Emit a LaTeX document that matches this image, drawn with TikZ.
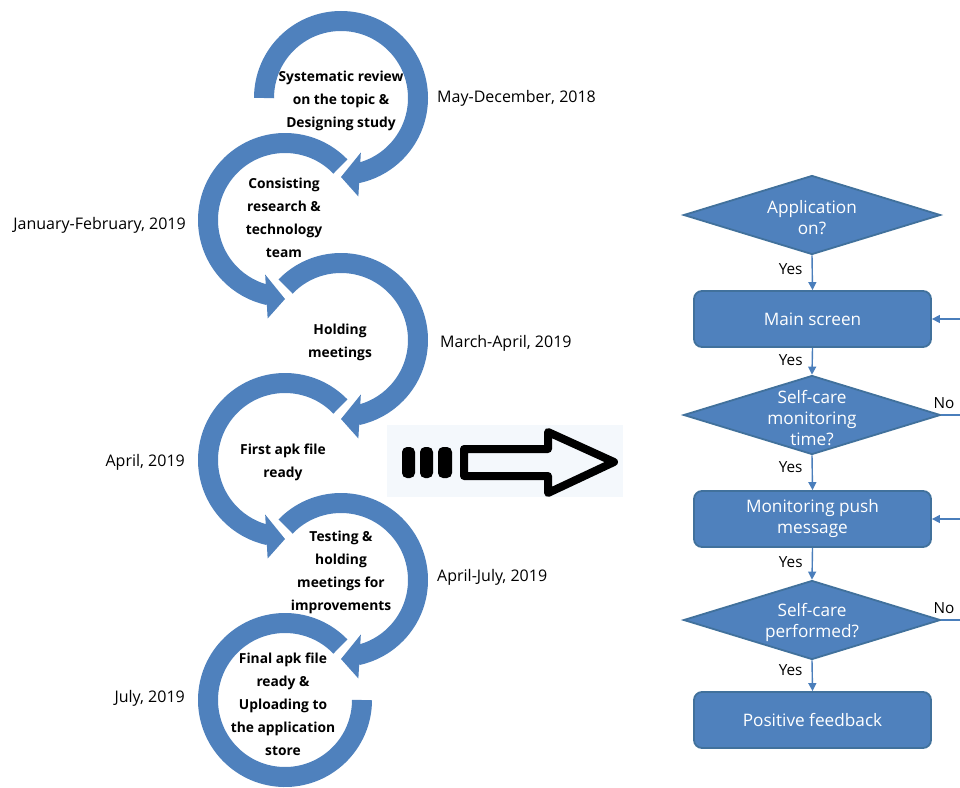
\documentclass[tikz,border=0pt]{standalone}
\usepackage{fontspec}
\setmainfont{Open Sans}
\usetikzlibrary{shapes.geometric,arrows.meta}
\definecolor{arcblue}{HTML}{4F81BD}
\definecolor{boxedge}{HTML}{41719C}
\definecolor{linkblue}{HTML}{4A7EBB}
\definecolor{bgpale}{HTML}{F4F8FC}
\newcommand\stepcw[3]{%
  \draw[arcblue, line width=20pt] (#1,#2) ++(#3:77) arc[start angle=#3, end angle=-78, radius=77];
  \fill[arcblue, shift={(#1,#2)}] (-70:58) -- (-80:100) -- (-90:79) -- cycle;}
\newcommand\stepccw[3]{%
  \draw[arcblue, line width=20pt] (#1,#2) ++(#3:77) arc[start angle=#3, end angle=258, radius=77];
  \fill[arcblue, shift={(#1,#2)}] (250:58) -- (260:100) -- (270:79) -- cycle;}
\begin{document}
\begin{tikzpicture}[x=1pt,y=1pt,
  steptext/.style={font=\fontsize{13.8}{23}\selectfont\bfseries, align=center, inner sep=0pt},
  datetext/.style={font=\fontsize{16}{18}\selectfont, inner sep=0pt},
  flowbox/.style={draw=boxedge, line width=1.8pt, fill=arcblue, rounded corners=8pt, minimum width=237pt, minimum height=56pt, text=white, font=\fontsize{17.2}{21}\selectfont, align=center},
  flowdia/.style={diamond, draw=boxedge, line width=1.8pt, fill=arcblue, aspect=3.2, minimum width=257pt, minimum height=79pt, inner sep=0pt},
  diatext/.style={text=white, font=\fontsize{17.2}{21}\selectfont, align=center, inner sep=0pt},
  yesno/.style={font=\fontsize{15.3}{17}\selectfont, inner sep=0pt},
  link/.style={draw=linkblue, line width=1.4pt, -{Triangle[length=8pt,width=8pt]}},
  plainlink/.style={draw=linkblue, line width=1.4pt},
]
\useasboundingbox (0,0) rectangle (960,-787);

% circular step arrows
\stepcw{341}{-98}{180}
\stepccw{285}{-220}{44}
\stepcw{341}{-340}{136}
\stepccw{285}{-460}{44}
\stepcw{341}{-580}{136}
\draw[arcblue, line width=20pt] (285,-700) ++(44:77) arc[start angle=44, end angle=360, radius=77];

% step texts
\node[steptext] (s1) at (341,-101) {Systematic review\\on the topic \&\\Designing study};
\node[steptext] (s2) at (284,-218) {Consisting\\research \&\\technology\\team};
\node[steptext] (s3) at (340,-342) {Holding\\meetings};
\node[steptext] (s4) at (283,-462) {First apk file\\ready};
\node[steptext] (s5) at (341,-572) {Testing \&\\holding\\meetings for\\improvements};
\node[steptext] (s6) at (283,-704) {Final apk file\\ready \&\\Uploading to\\the application\\store};

% dates
\node[datetext, anchor=west] (d1) at (437,-98) {May-December, 2018};
\node[datetext, anchor=east] (d2) at (186,-225) {January-February, 2019};
\node[datetext, anchor=west] (d3) at (440,-343) {March-April, 2019};
\node[datetext, anchor=east] (d4) at (185,-462) {April, 2019};
\node[datetext, anchor=west] (d5) at (437,-577) {April-July, 2019};
\node[datetext, anchor=east] (d6) at (185,-698) {July, 2019};

% big arrow
\fill[bgpale] (387,-425) rectangle (623,-497);
\fill[black, rounded corners=5pt] (402,-447) rectangle (415,-478);
\fill[black, rounded corners=5pt] (420,-447) rectangle (433,-478);
\fill[black, rounded corners=5pt] (438,-447) rectangle (452,-478);
\draw[black, line width=8pt, line join=round] (464,-449) -- (548,-449) -- (548,-432) -- (614,-462) -- (548,-493) -- (548,-476) -- (464,-476) -- cycle;

% flowchart
\node[flowdia] (q1) at (812,-215) {};
\node[diatext] (q1t) at (812,-218) {Application\\on?};
\node[flowbox] (b1) at (812.5,-319) {Main screen};
\node[flowdia] (q2) at (812,-415) {};
\node[diatext] (q2t) at (812,-418) {Self-care\\monitoring\\time?};
\node[flowbox] (b2) at (812.5,-519) {Monitoring push\\message};
\node[flowdia] (q3) at (812,-620) {};
\node[diatext] (q3t) at (812,-622) {Self-care\\performed?};
\node[flowbox, yshift=-1pt] (b3) at (812.5,-719) {Positive feedback};

\draw[link] (q1.south) -- (b1.north) node[yesno, pos=0.4, anchor=east, xshift=-9pt] {Yes};
\draw[link] (b1.south) -- (q2.north) node[yesno, pos=0.45, anchor=east, xshift=-9pt] {Yes};
\draw[link] (q2.south) -- (b2.north) node[yesno, pos=0.35, anchor=east, xshift=-9pt] {Yes};
\draw[link] (b2.south) -- (q3.north) node[yesno, pos=0.45, anchor=east, xshift=-9pt] {Yes};
\draw[link] (q3.south) -- (b3.north) node[yesno, pos=0.3, anchor=east, xshift=-9pt] {Yes};

\coordinate (r1) at (960,-319);
\coordinate (r2) at (960,-519);
\coordinate (n1) at (960,-415);
\coordinate (n2) at (960,-620);
\draw[link] (r1) -- (b1.east);
\draw[link] (r2) -- (b2.east);
\draw[plainlink] (q2.east) -- (n1);
\draw[plainlink] (q3.east) -- (n2);
\node[yesno, anchor=south west] (no1) at ([xshift=-8pt,yshift=6pt]q2.east) {No};
\node[yesno, anchor=south west] (no2) at ([xshift=-8pt,yshift=6pt]q3.east) {No};
\end{tikzpicture}
\end{document}
